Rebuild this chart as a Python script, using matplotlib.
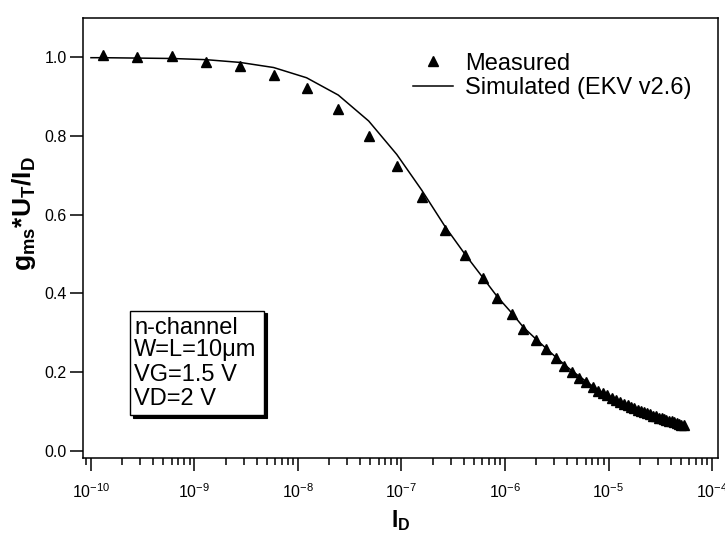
import matplotlib
matplotlib.use("Agg")
import matplotlib.pyplot as plt
from matplotlib.patches import Rectangle
from matplotlib.ticker import LogLocator, FixedLocator, FuncFormatter, NullFormatter
import math

plt.rcParams['font.family'] = ['Liberation Sans', 'DejaVu Sans']
plt.rcParams['mathtext.fontset'] = 'custom'
plt.rcParams['mathtext.rm'] = 'Liberation Sans'
plt.rcParams['mathtext.it'] = 'Liberation Sans:italic'
plt.rcParams['mathtext.bf'] = 'Liberation Sans:bold'

# ---- data ----
meas_id = [1.30e-10, 2.80e-10, 6.03e-10, 1.29e-9, 2.75e-9, 5.82e-9, 1.21e-8, 2.45e-8,
           4.82e-8, 9.0e-8, 1.57e-7, 2.63e-7, 4.11e-7, 6.10e-7, 8.43e-7, 1.16e-6,
           1.50e-6, 1.98e-6, 2.49e-6, 3.11e-6, 3.72e-6, 4.41e-6, 5.22e-6, 6.07e-6,
           7.13e-6, 7.98e-6, 8.85e-6, 9.77e-6, 1.08e-5, 1.18e-5, 1.29e-5, 1.41e-5,
           1.53e-5, 1.65e-5, 1.78e-5, 1.93e-5, 2.06e-5, 2.20e-5, 2.36e-5, 2.52e-5,
           2.69e-5, 2.88e-5, 3.08e-5, 3.25e-5, 3.44e-5, 3.63e-5, 3.85e-5, 4.06e-5,
           4.30e-5, 4.54e-5, 4.80e-5, 5.01e-5, 5.31e-5]
meas_gm = [1.006, 1.000, 1.003, 0.989, 0.978, 0.955, 0.921, 0.868,
           0.800, 0.724, 0.645, 0.562, 0.496, 0.439, 0.388, 0.347,
           0.310, 0.281, 0.258, 0.235, 0.215, 0.200, 0.185, 0.174,
           0.161, 0.151, 0.146, 0.140, 0.134, 0.129, 0.124, 0.119,
           0.115, 0.111, 0.107, 0.104, 0.101, 0.098, 0.095, 0.092,
           0.089, 0.087, 0.084, 0.082, 0.080, 0.078, 0.076, 0.074,
           0.072, 0.070, 0.068, 0.066, 0.064]

sim_id = [1.0e-10, 1.30e-10, 2.80e-10, 6.03e-10, 1.29e-9, 2.75e-9, 5.82e-9, 1.21e-8,
          2.45e-8, 4.82e-8, 9.0e-8, 1.57e-7, 2.63e-7, 4.11e-7, 6.10e-7, 8.43e-7,
          1.16e-6, 1.50e-6, 1.98e-6, 2.49e-6, 3.11e-6, 4.41e-6, 6.07e-6, 7.98e-6,
          1.18e-5, 1.93e-5, 3.08e-5, 5.31e-5]
sim_gm = [0.999, 0.999, 0.998, 0.997, 0.994, 0.987, 0.974, 0.948,
          0.904, 0.838, 0.753, 0.662, 0.570, 0.499, 0.440, 0.391,
          0.350, 0.314, 0.284, 0.260, 0.237, 0.203, 0.176, 0.153,
          0.130, 0.104, 0.084, 0.063]

x_ticks = [1e-10, 1e-9, 1e-8, 1e-7, 1e-6, 1e-5, 1e-4]
y_ticks = [0.0, 0.2, 0.4, 0.6, 0.8, 1.0]
legend_labels = ["Measured", "Simulated (EKV v2.6)"]
info_lines = ["n-channel", "W=L=10\u03bcm", "VG=1.5 V", "VD=2 V"]

# ---- figure ----
fig = plt.figure(figsize=(7.25, 5.35), dpi=100)
ax = fig.add_axes([0.1149, 0.1439, 0.8755, 0.8225])

l_meas, = ax.plot(meas_id, meas_gm, linestyle='none', marker='^', markersize=7.8,
                  color='black', label=legend_labels[0], zorder=3)
l_sim, = ax.plot(sim_id, sim_gm, color='black', linewidth=1.1,
                 label=legend_labels[1], zorder=2)

ax.set_xscale('log')
ax.set_xlim(10 ** -10.074, 10 ** -3.942)
ax.set_ylim(-0.019, 1.10)

ax.xaxis.set_major_locator(FixedLocator(x_ticks))
ax.xaxis.set_minor_locator(LogLocator(base=10, subs=range(2, 10), numticks=20))
ax.xaxis.set_minor_formatter(NullFormatter())


def fmt_x(v, pos):
    e = int(round(math.log10(v)))
    return r'$\mathregular{10^{%d}}$' % e


ax.xaxis.set_major_formatter(FuncFormatter(fmt_x))

ax.yaxis.set_major_locator(FixedLocator(y_ticks))
ax.yaxis.set_major_formatter(FuncFormatter(lambda v, p: "%.1f" % v))

for s in ax.spines.values():
    s.set_linewidth(1.1)

ax.tick_params(axis='both', which='major', direction='out', length=9.3, width=1.1,
               top=False, right=False)
ax.tick_params(axis='x', which='major', pad=8.5, labelsize=11.5)
ax.tick_params(axis='y', which='major', pad=2.5, labelsize=11.5)
ax.tick_params(axis='x', which='minor', direction='out', length=4.8, width=1.1,
               top=False)

ax.set_xlabel(r'I$_{\mathbf{D}}$', fontsize=16.5, fontweight='bold')
ax.xaxis.set_label_coords(0.5, -0.113)
ax.set_ylabel(r'g$_{\mathbf{ms}}$*U$_{\mathbf{T}}$/I$_{\mathbf{D}}$', fontsize=19,
              fontweight='bold')
ax.yaxis.set_label_coords(-0.0706, 0.555)

ax.legend(handles=[l_meas, l_sim], loc='upper left', bbox_to_anchor=(0.5195, 0.921),
          frameon=False, fontsize=17, borderpad=0, borderaxespad=0,
          handlelength=1.7, handletextpad=0.5, labelspacing=0.1, numpoints=1)

# info box with drop shadow
px = 1.0 / 634.7
py = 1.0 / 440.0
bx, by, bw, bh = 0.0736, 0.0977, 0.2111, 0.2364
shadow = Rectangle((bx + 2.5 * px, by - 2.5 * py), bw, bh, transform=ax.transAxes,
                   facecolor='black', edgecolor='black', linewidth=0.8, zorder=4)
box = Rectangle((bx, by), bw, bh, transform=ax.transAxes, facecolor='white',
                edgecolor='black', linewidth=1.0, zorder=5)
ax.add_patch(shadow)
ax.add_patch(box)
baselines = [0.2818, 0.2307, 0.1761, 0.1205]
for txt, yb in zip(info_lines, baselines):
    ax.text(0.0799, yb, txt, transform=ax.transAxes, fontsize=17, ha='left',
            va='baseline', zorder=6)

fig.savefig('out.png', dpi=100)
